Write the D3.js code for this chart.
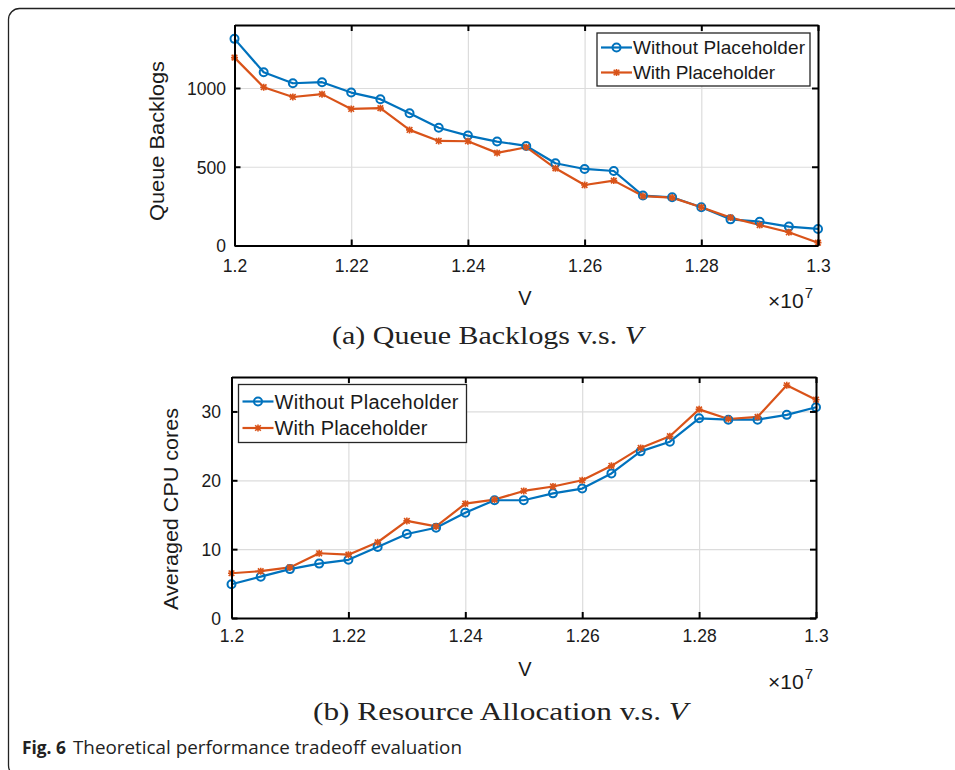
<!DOCTYPE html>
<html>
<head>
<meta charset="utf-8">
<script src="https://cdn.jsdelivr.net/npm/d3@7"></script>
<style>
  html, body { margin: 0; padding: 0; background: #fff; }
  svg { display: block; }
</style>
</head>
<body>
<svg id="chart" width="955" height="770"></svg>
<script>
// ---------------- DATA ----------------
const vValues = [1.200, 1.205, 1.210, 1.215, 1.220, 1.225, 1.230, 1.235, 1.240, 1.245, 1.250,
                 1.255, 1.260, 1.265, 1.270, 1.275, 1.280, 1.285, 1.290, 1.295, 1.300];
const backlogWithout = [1312, 1100, 1030, 1037, 971, 929, 840, 748, 698, 660, 632,
                        522, 486, 473, 317, 306, 243, 166, 151, 120, 105];
const backlogWith = [1193, 1005, 943, 961, 867, 872, 734, 664, 662, 588, 624,
                     490, 384, 412, 314, 304, 243, 177, 130, 84, 18];
const cpuWithout = [4.9, 6.0, 7.1, 7.9, 8.45, 10.3, 12.2, 13.1, 15.3, 17.1, 17.1,
                    18.1, 18.8, 21.0, 24.2, 25.6, 29.0, 28.8, 28.8, 29.5, 30.6];
const cpuWith = [6.5, 6.8, 7.35, 9.4, 9.2, 11.0, 14.1, 13.3, 16.6, 17.2, 18.45,
                 19.1, 20.0, 22.1, 24.7, 26.4, 30.3, 28.9, 29.2, 33.8, 31.7];
const xTicks = [1.20, 1.22, 1.24, 1.26, 1.28, 1.30];
const xTickLabels = ["1.2", "1.22", "1.24", "1.26", "1.28", "1.3"];
const backlogTicks = [0, 500, 1000];
const backlogTickLabels = ["0", "500", "1000"];
const cpuTicks = [0, 10, 20, 30];
const cpuTickLabels = ["0", "10", "20", "30"];
const seriesNames = ["Without Placeholder", "With Placeholder"];
const seriesColors = ["#0072BD", "#D95319"];

// ---------------- DRAW ----------------
const svg = d3.select("#chart");
const SANS = "'Liberation Sans', Arial, Helvetica, sans-serif";
const SERIF = "'Liberation Serif', 'Times New Roman', serif";
const TXT = "#1a1a1a";

// outer frame (rounded, extends past right and bottom edges)
svg.append("rect")
  .attr("x", 8.5).attr("y", 8.5).attr("width", 1000).attr("height", 768)
  .attr("rx", 11).attr("ry", 11)
  .attr("fill", "none").attr("stroke", "#222").attr("stroke-width", 1.3);

function asterisk(g, x, y, s, color) {
  const d = `M${x - s},${y - s}L${x + s},${y + s}M${x - s},${y + s}L${x + s},${y - s}M${x},${y - s * 1.25}L${x},${y + s * 1.25}M${x - s*1.25},${y}L${x + s*1.25},${y}`;
  g.append("path").attr("d", d).attr("stroke", color).attr("stroke-width", 1.6).attr("fill", "none");
}

function drawPanel(cfg) {
  const g = svg.append("g");
  const x = d3.scaleLinear().domain([1.2, 1.3]).range([cfg.left, cfg.right]);
  const y = d3.scaleLinear().domain([0, cfg.ymax]).range([cfg.bottom, cfg.top]);
  const W = cfg.right - cfg.left, H = cfg.bottom - cfg.top;

  // grid
  const grid = g.append("g");
  grid.append("g").attr("transform", `translate(0,${cfg.bottom})`)
    .call(d3.axisBottom(x).tickValues(xTicks).tickSize(-H).tickFormat(""))
    .call(a => a.select(".domain").remove())
    .call(a => a.selectAll("line").attr("stroke", "#dcdcdc").attr("stroke-width", 1.2));
  grid.append("g").attr("transform", `translate(${cfg.left},0)`)
    .call(d3.axisLeft(y).tickValues(cfg.yTicks).tickSize(-W).tickFormat(""))
    .call(a => a.select(".domain").remove())
    .call(a => a.selectAll("line").attr("stroke", "#dcdcdc").attr("stroke-width", 1.2));

  // series
  const line = d3.line().x((d, i) => x(vValues[i])).y(d => y(d));
  cfg.series.forEach((vals, si) => {
    g.append("path").datum(vals).attr("d", line)
      .attr("fill", "none").attr("stroke", seriesColors[si]).attr("stroke-width", 2.2)
      .attr("stroke-linejoin", "round");
  });
  // markers
  cfg.series.forEach((vals, si) => {
    vals.forEach((v, i) => {
      if (si === 0) {
        g.append("circle").attr("cx", x(vValues[i])).attr("cy", y(v)).attr("r", 4)
          .attr("fill", "none").attr("stroke", seriesColors[0]).attr("stroke-width", 2);
      } else {
        asterisk(g, x(vValues[i]), y(v), 2.8, seriesColors[1]);
      }
    });
  });

  // axes with inward ticks on all four sides
  const tk = 6;
  const axB = g.append("g").attr("transform", `translate(0,${cfg.bottom})`)
    .call(d3.axisBottom(x).tickValues(xTicks).tickSizeInner(-tk).tickSizeOuter(0)
      .tickPadding(14).tickFormat((d, i) => xTickLabels[i]));
  const axT = g.append("g").attr("transform", `translate(0,${cfg.top})`)
    .call(d3.axisTop(x).tickValues(xTicks).tickSizeInner(-tk).tickSizeOuter(0).tickFormat(""));
  const axL = g.append("g").attr("transform", `translate(${cfg.left},0)`)
    .call(d3.axisLeft(y).tickValues(cfg.yTicks).tickSizeInner(-tk).tickSizeOuter(0)
      .tickPadding(14).tickFormat((d, i) => cfg.yTickLabels[i]));
  const axR = g.append("g").attr("transform", `translate(${cfg.right},0)`)
    .call(d3.axisRight(y).tickValues(cfg.yTicks).tickSizeInner(-tk).tickSizeOuter(0).tickFormat(""));
  [axB, axT, axL, axR].forEach(a => {
    a.select(".domain").attr("stroke", "#000").attr("stroke-width", 2);
    a.selectAll(".tick line").attr("stroke", "#000").attr("stroke-width", 2);
    a.selectAll("text").attr("fill", TXT).attr("font-family", SANS).attr("font-size", 17.5);
  });
  axB.selectAll("text").attr("dy", null).attr("y", cfg.xTickBaseline - cfg.bottom)
    .attr("dominant-baseline", "alphabetic");
  axL.selectAll("text").attr("dy", "0.36em").attr("x", cfg.yTickRight - cfg.left);

  // y label
  g.append("text")
    .attr("transform", `translate(${cfg.ylabelX},${cfg.ylabelY}) rotate(-90)`)
    .attr("text-anchor", "middle").attr("font-family", SANS).attr("font-size", 21)
    .attr("fill", TXT).attr("textLength", cfg.ylabelLen).attr("lengthAdjust", "spacingAndGlyphs")
    .text(cfg.ylabel);
  // x label
  g.append("text").attr("x", 525).attr("y", cfg.vBaseline).attr("text-anchor", "middle")
    .attr("font-family", SANS).attr("font-size", 20).attr("fill", TXT).text("V");
  // exponent
  const ex = g.append("text").attr("x", 768).attr("y", cfg.expBaseline)
    .attr("font-family", SANS).attr("fill", TXT);
  ex.append("tspan").attr("font-size", 21).text("×");
  ex.append("tspan").attr("font-size", 21).attr("dx", 0).text("10");
  ex.append("tspan").attr("font-size", 15).attr("dy", -10).attr("dx", 1).text("7");

  // legend
  const L = cfg.legend;
  g.append("rect").attr("x", L.x).attr("y", L.y).attr("width", L.w).attr("height", L.h)
    .attr("fill", "#fff").attr("stroke", "#262626").attr("stroke-width", 1.3);
  seriesNames.forEach((name, si) => {
    const cy = L.y + L.row0 + si * L.rowGap;
    g.append("line").attr("x1", L.x + 4).attr("x2", L.x + 35).attr("y1", cy).attr("y2", cy)
      .attr("stroke", seriesColors[si]).attr("stroke-width", 2.2);
    if (si === 0) {
      g.append("circle").attr("cx", L.x + 19.5).attr("cy", cy).attr("r", 4)
        .attr("fill", "none").attr("stroke", seriesColors[0]).attr("stroke-width", 2);
    } else {
      asterisk(g, L.x + 19.5, cy, 2.8, seriesColors[1]);
    }
    g.append("text").attr("x", L.x + 36).attr("y", cy).attr("dy", "0.36em")
      .attr("font-family", SANS).attr("font-size", L.fs).attr("fill", TXT)
      .attr("textLength", si === 0 ? L.len0 : L.len1).attr("lengthAdjust", "spacing")
      .text(name);
  });

  // caption
  const cap = svg.append("text").attr("x", cfg.capX).attr("y", cfg.capBaseline)
    .attr("font-family", SERIF).attr("font-size", 26).attr("fill", "#222")
    .attr("textLength", cfg.capLen).attr("lengthAdjust", "spacingAndGlyphs");
  cap.append("tspan").text(cfg.caption + " ");
  cap.append("tspan").attr("font-style", "italic").text("V");
}

drawPanel({
  left: 234.5, right: 818, top: 25, bottom: 245.5, ymax: 1400,
  yTicks: backlogTicks, yTickLabels: backlogTickLabels,
  series: [backlogWithout, backlogWith],
  xTickBaseline: 272, yTickRight: 226,
  ylabel: "Queue Backlogs", ylabelX: 164, ylabelY: 141, ylabelLen: 160,
  vBaseline: 305, expBaseline: 308,
  legend: { x: 597, y: 33, w: 213, h: 53, row0: 14.5, rowGap: 25, fs: 19, len0: 172, len1: 142 },
  caption: "(a) Queue Backlogs v.s.", capX: 332, capBaseline: 344, capLen: 311
});
drawPanel({
  left: 231.5, right: 816, top: 377, bottom: 618, ymax: 35,
  yTicks: cpuTicks, yTickLabels: cpuTickLabels,
  series: [cpuWithout, cpuWith],
  xTickBaseline: 642, yTickRight: 221,
  ylabel: "Averaged CPU cores", ylabelX: 178, ylabelY: 509, ylabelLen: 202,
  vBaseline: 676, expBaseline: 689,
  legend: { x: 238.5, y: 384.5, w: 228, h: 58, row0: 17, rowGap: 26.5, fs: 20, len0: 184, len1: 153 },
  caption: "(b) Resource Allocation v.s.", capX: 313, capBaseline: 720, capLen: 375
});

// figure caption
const fc = svg.append("text").attr("x", 22).attr("y", 754).attr("fill", "#222")
  .attr("font-family", "'Open Sans', 'Noto Sans', sans-serif").attr("font-size", 17.5)
  .attr("textLength", 44).attr("lengthAdjust", "spacingAndGlyphs");
fc.append("tspan").attr("font-weight", "bold").text("Fig. 6");
svg.append("text").attr("x", 73).attr("y", 754).attr("fill", "#222")
  .attr("font-family", "'Open Sans', 'Noto Sans', sans-serif").attr("font-size", 17.5)
  .attr("textLength", 389).attr("lengthAdjust", "spacingAndGlyphs")
  .text("Theoretical performance tradeoff evaluation");
</script>
</body>
</html>
